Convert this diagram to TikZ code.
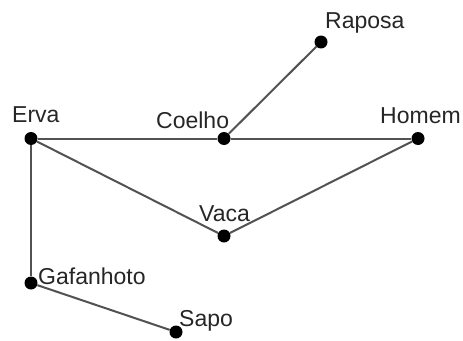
\documentclass[tikz,border=0pt]{standalone}
\usepackage{fontspec}
\setmainfont{Liberation Sans}
\begin{document}
\begin{tikzpicture}[x=1pt,y=-1pt,
  dot/.style={circle,fill=black,minimum size=13pt,inner sep=0pt},
  lbl/.style={anchor=base west,inner sep=0pt,text=black!85,font=\fontsize{23}{27}\selectfont},
  edge/.style={draw=black!68,line width=2pt}]
\useasboundingbox[fill=white] (0,0) rectangle (463,340);
\node[dot] (erva) at (31,138.5) {};
\node[dot] (coelho) at (224,138.5) {};
\node[dot] (raposa) at (321,42) {};
\node[dot] (homem) at (418,138.5) {};
\node[dot] (vaca) at (224,236) {};
\node[dot] (gaf) at (31,283) {};
\node[dot] (sapo) at (176,332) {};
\node[lbl] (lerva) at (12,122) {Erva};
\node[lbl] (lcoelho) at (156,128) {Coelho};
\node[lbl] (lraposa) at (325,28) {Raposa};
\node[lbl] (lhomem) at (380,123) {Homem};
\node[lbl] (lvaca) at (199,221) {Vaca};
\node[lbl] (lgaf) at (38,284) {Gafanhoto};
\node[lbl] (lsapo) at (179,326) {Sapo};
\path[edge] (erva) -- (coelho);
\path[edge] (coelho) -- (homem);
\path[edge] (coelho) -- (raposa);
\path[edge] (erva) -- (vaca);
\path[edge] (vaca) -- (homem);
\path[edge] (erva) -- (gaf);
\path[edge] (gaf) -- (sapo);
\end{tikzpicture}
\end{document}
